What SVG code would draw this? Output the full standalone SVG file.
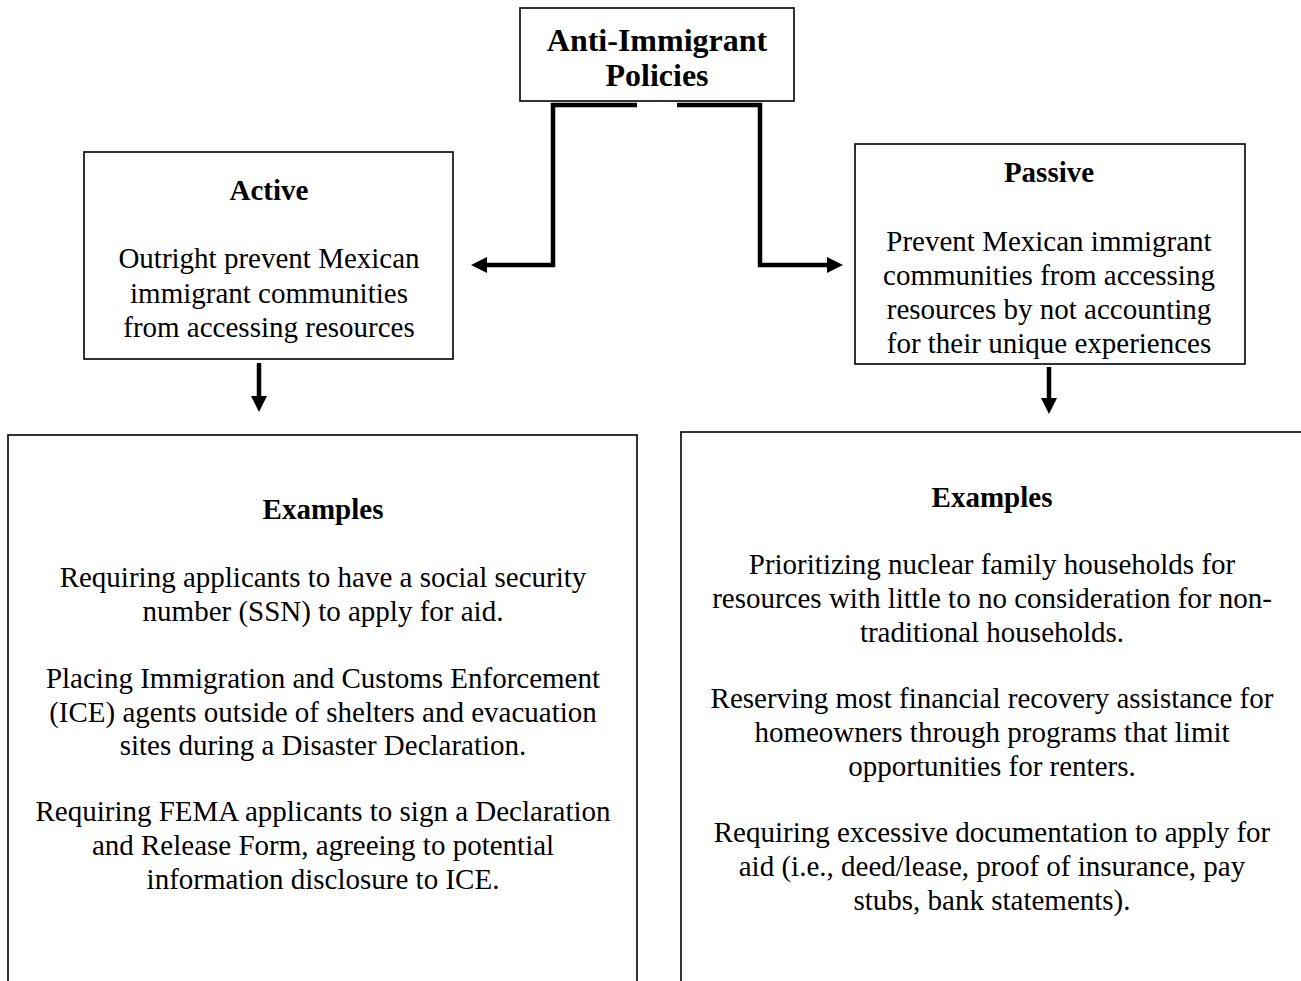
<svg xmlns="http://www.w3.org/2000/svg" width="1301" height="981" viewBox="0 0 1301 981">
<style>
  .box { fill: #ffffff; stroke: #000000; stroke-width: 1.6; }
  .conn { fill: none; stroke: #000000; stroke-width: 4.5; stroke-linejoin: miter; }
  .t { font-family: "Liberation Serif", "Times New Roman", serif; font-size: 29px; fill: #000000; text-anchor: middle; }
  .b { font-weight: bold; }
  .big { font-size: 32px; }
</style>
<defs>
  <marker id="arr" markerUnits="userSpaceOnUse" markerWidth="18" markerHeight="18" viewBox="0 0 18 18" refX="1" refY="9" orient="auto">
    <path d="M0,1 L16,9 L0,17 Z" fill="#000000"/>
  </marker>
</defs>
<rect width="1301" height="981" fill="#ffffff"/>

<g id="connectors">
  <polyline class="conn" points="637,105 553,105 553,265 486,265" marker-end="url(#arr)"/>
  <polyline class="conn" points="677,105 760,105 760,265 828,265" marker-end="url(#arr)"/>
  <line class="conn" x1="259" y1="363" x2="259" y2="397" marker-end="url(#arr)"/>
  <line class="conn" x1="1049" y1="367" x2="1049" y2="399" marker-end="url(#arr)"/>
</g>

<g id="node-top">
  <rect class="box" x="520" y="8" width="274" height="93"/>
  <text class="t b big" x="657" y="51">Anti-Immigrant</text>
  <text class="t b big" x="657" y="86">Policies</text>
</g>

<g id="node-active">
  <rect class="box" x="84" y="152" width="369" height="207"/>
  <text class="t b" x="269" y="200">Active</text>
  <text class="t" x="269" y="268">Outright prevent Mexican</text>
  <text class="t" x="269" y="303">immigrant communities</text>
  <text class="t" x="269" y="337">from accessing resources</text>
</g>

<g id="node-passive">
  <rect class="box" x="855" y="144" width="390" height="220"/>
  <text class="t b" x="1049" y="182">Passive</text>
  <text class="t" x="1049" y="251">Prevent Mexican immigrant</text>
  <text class="t" x="1049" y="285">communities from accessing</text>
  <text class="t" x="1049" y="319">resources by not accounting</text>
  <text class="t" x="1049" y="353">for their unique experiences</text>
</g>

<g id="node-examples-active">
  <rect class="box" x="8" y="435" width="629" height="560"/>
  <text class="t b" x="323" y="519">Examples</text>
  <text class="t" x="323" y="587">Requiring applicants to have a social security</text>
  <text class="t" x="323" y="621">number (SSN) to apply for aid.</text>
  <text class="t" x="323" y="688">Placing Immigration and Customs Enforcement</text>
  <text class="t" x="323" y="722">(ICE) agents outside of shelters and evacuation</text>
  <text class="t" x="323" y="755">sites during a Disaster Declaration.</text>
  <text class="t" x="323" y="821">Requiring FEMA applicants to sign a Declaration</text>
  <text class="t" x="323" y="855">and Release Form, agreeing to potential</text>
  <text class="t" x="323" y="889">information disclosure to ICE.</text>
</g>

<g id="node-examples-passive">
  <rect class="box" x="681" y="432" width="640" height="560"/>
  <text class="t b" x="992" y="507">Examples</text>
  <text class="t" x="992" y="574">Prioritizing nuclear family households for</text>
  <text class="t" x="992" y="608">resources with little to no consideration for non-</text>
  <text class="t" x="992" y="642">traditional households.</text>
  <text class="t" x="992" y="708">Reserving most financial recovery assistance for</text>
  <text class="t" x="992" y="742">homeowners through programs that limit</text>
  <text class="t" x="992" y="776">opportunities for renters.</text>
  <text class="t" x="992" y="842">Requiring excessive documentation to apply for</text>
  <text class="t" x="992" y="876">aid (i.e., deed/lease, proof of insurance, pay</text>
  <text class="t" x="992" y="910">stubs, bank statements).</text>
</g>
</svg>
